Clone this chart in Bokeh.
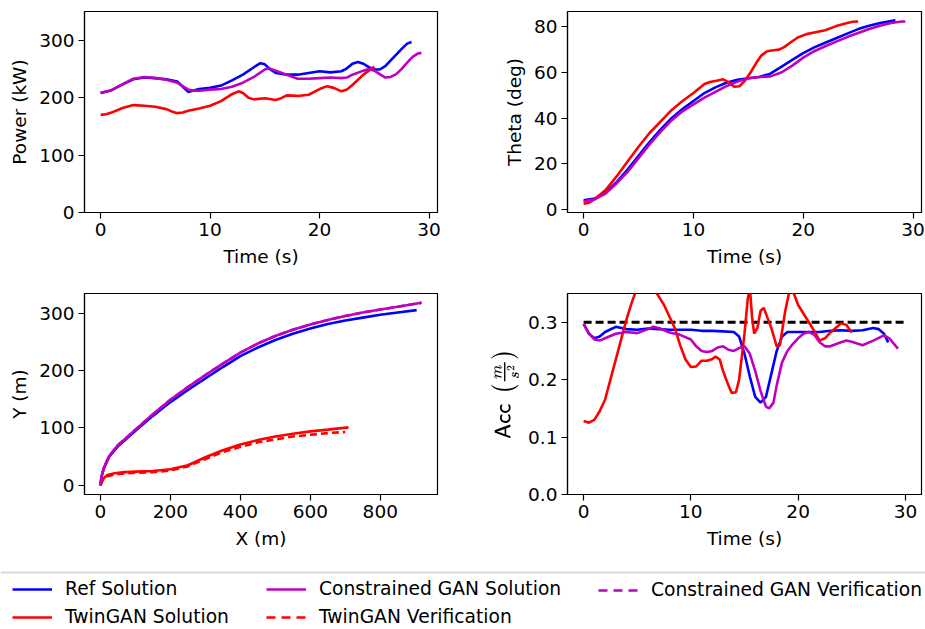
from bokeh.plotting import figure
from bokeh.models import Range1d, FixedTicker, Legend, LegendItem, Span, TeX, PrintfTickFormatter
from bokeh.layouts import column, row
from bokeh.embed import file_html
from bokeh.resources import INLINE

# ---------------- data ----------------
# Power (kW) vs time
ref_pow_t = [0, 1, 2, 3, 4, 5, 6, 7, 8, 9, 10, 11, 12, 13, 14, 14.6, 15, 15.5, 16, 17, 18, 19, 20, 21, 22, 22.5, 23, 23.5, 24, 24.5, 25, 25.5, 26, 26.5, 27, 27.5, 28, 28.4]
ref_pow = [208, 213, 223, 232, 235, 234, 232, 228, 210, 215, 217, 221, 230, 240, 253, 260, 258, 249, 243, 240, 240, 243, 246, 244, 246, 251, 259, 262, 259, 253, 249, 249, 255, 265, 275, 285, 294, 297]
cgan_pow_t = [0, 1, 2, 3, 4, 5, 6, 7, 8, 8.5, 9, 10, 11, 12, 13, 14, 15, 15.4, 16, 17, 18, 19, 20, 21, 22, 22.5, 23, 24, 24.5, 25, 25.5, 26, 26.5, 27, 27.5, 28, 28.5, 29, 29.3]
cgan_pow = [208, 213, 223, 233, 236, 234, 231, 226, 214, 212, 212, 214, 215, 219, 226, 236, 249, 251, 247, 240, 233, 233, 234, 235, 234, 235, 240, 247, 250, 247, 241, 235, 236, 241, 250, 261, 271, 277, 278]
twin_pow_t = [0, 0.5, 1, 2, 3, 4, 5, 6, 6.5, 7, 7.5, 8, 9, 10, 11, 12, 12.6, 13, 13.5, 14, 15, 16, 16.5, 17, 18, 19, 20, 20.7, 21.3, 22, 22.5, 23, 24, 25]
twin_pow = [170, 171, 174, 182, 187, 186, 184, 180, 176, 173, 174, 177, 181, 186, 194, 206, 211, 208, 200, 197, 199, 196, 199, 204, 203, 205, 215, 220, 217, 211, 214, 222, 240, 254]

# Theta (deg) vs time
ref_th_t = [0, 1, 2, 3, 4, 5, 6, 7, 8, 9, 10, 11, 12, 13, 14, 15, 16, 17, 18, 19, 20, 21, 22, 23, 24, 25, 26, 27, 28, 28.4]
ref_th = [4, 4.8, 7.5, 12, 17.5, 23.5, 29.5, 35, 40, 44, 47.5, 51, 53.5, 55.5, 56.8, 57.5, 58, 59.5, 62.5, 65.5, 68.5, 71, 73, 75, 77, 79, 80.5, 81.7, 82.5, 82.8]
cgan_th_t = [0, 1, 2, 3, 4, 5, 6, 7, 8, 9, 10, 11, 12, 13, 14, 15, 16, 17, 18, 19, 20, 21, 22, 23, 24, 25, 26, 27, 28, 29, 29.3]
cgan_th = [3.5, 4.5, 7, 11.5, 16.5, 22.5, 28.5, 34, 39, 43, 46, 49, 51.5, 54, 56, 57.5, 58, 58.3, 60, 63, 66.5, 69.3, 71.5, 73.5, 75.5, 77.3, 79, 80.5, 81.7, 82.3, 82.3]
twin_th_t = [0, 0.5, 1, 2, 3, 4, 5, 6, 7, 8, 9, 10, 11, 11.5, 12, 12.7, 13.2, 13.7, 14.2, 14.7, 15.2, 15.7, 16.2, 16.7, 17.3, 17.8, 18.3, 18.8, 19.5, 20.3, 21, 22, 23, 24, 24.5, 25]
twin_th = [2.5, 3, 4.5, 8.5, 14.5, 21, 27.5, 33.5, 38.5, 43.5, 47.5, 51, 55, 55.8, 56.3, 57, 55.8, 53.8, 54, 56.5, 60, 64, 67.5, 69.3, 69.7, 70, 71.2, 73, 75.3, 76.8, 77.5, 78.5, 80.3, 81.7, 82.2, 82.3]

# Trajectory Y (m) vs X (m)
ref_x = [0, 3, 10, 25, 50, 100, 150, 200, 250, 300, 350, 400, 450, 500, 550, 600, 650, 700, 750, 800, 850, 904]
ref_y = [0, 15, 30, 50, 68, 95, 121, 145, 166, 186, 206, 225, 240, 253, 264, 273, 281, 287, 292, 297, 301, 305]
cgan_x = [0, 3, 10, 25, 50, 100, 150, 200, 250, 300, 350, 400, 450, 500, 550, 600, 650, 700, 750, 800, 850, 918]
cgan_y = [0, 15, 31, 51, 70, 97, 124, 149, 171, 192, 212, 231, 247, 260, 271, 280, 288, 295, 301, 306, 311, 318]
cgan_ver_x = cgan_x
cgan_ver_y = cgan_y
twin_x = [0, 5, 10, 20, 40, 70, 100, 150, 200, 250, 300, 350, 400, 450, 500, 550, 600, 650, 709]
twin_y = [0, 8, 13, 18, 21, 23, 24, 25, 28, 35, 49, 61, 71, 79, 85, 90, 94, 97, 101]
twin_ver_x = [0, 5, 10, 20, 40, 70, 100, 150, 200, 250, 300, 350, 400, 450, 500, 550, 600, 650, 700]
twin_ver_y = [0, 7, 12, 16, 19, 21, 22, 23, 26, 33, 46, 58, 67, 75, 80, 85, 88, 91, 93]

# Acceleration vs time
acc_limit_t = [0, 30]
acc_limit = [0.3, 0.3]
ref_acc_t = [0, 0.5, 1, 1.5, 2, 3, 4, 5, 6, 7, 8, 9, 10, 11, 12, 13, 14, 14.5, 15, 15.5, 16, 16.5, 17, 17.5, 18, 18.5, 19, 20, 22, 23, 24, 25, 26, 27, 27.5, 28, 28.4]
ref_acc = [0.297, 0.28, 0.272, 0.275, 0.283, 0.292, 0.288, 0.287, 0.289, 0.288, 0.287, 0.287, 0.287, 0.285, 0.285, 0.284, 0.283, 0.275, 0.245, 0.205, 0.17, 0.16, 0.17, 0.21, 0.25, 0.275, 0.283, 0.283, 0.283, 0.285, 0.286, 0.285, 0.286, 0.29, 0.288, 0.28, 0.265]
cgan_acc_t = [0, 0.5, 1, 1.5, 2, 3, 4, 5, 6, 6.5, 7, 8, 9, 10, 10.5, 11, 11.5, 12, 12.5, 13, 13.5, 14, 14.5, 15, 15.5, 16, 16.5, 17, 17.3, 17.7, 18, 18.5, 19, 19.5, 20, 20.5, 21, 21.5, 22, 22.5, 23, 24, 24.5, 25, 26, 27, 28, 28.5, 29.3]
cgan_acc = [0.297, 0.28, 0.27, 0.268, 0.272, 0.28, 0.283, 0.281, 0.288, 0.292, 0.29, 0.282, 0.278, 0.27, 0.258, 0.25, 0.248, 0.25, 0.256, 0.258, 0.252, 0.25, 0.255, 0.258, 0.245, 0.215, 0.18, 0.153, 0.15, 0.16, 0.19, 0.23, 0.25, 0.262, 0.272, 0.28, 0.283, 0.278, 0.265, 0.258, 0.258, 0.265, 0.268, 0.266, 0.26, 0.268, 0.277, 0.272, 0.254]
twin_acc_t = [0, 0.5, 1, 1.5, 2, 2.5, 3, 3.5, 4, 4.5, 5, 6, 7, 7.5, 8, 8.5, 9, 9.5, 10, 10.5, 11, 11.5, 12, 12.3, 12.7, 13, 13.5, 13.8, 14.2, 14.5, 15, 15.3, 15.5, 15.7, 15.9, 16.2, 16.5, 16.8, 17.2, 17.5, 18, 18.3, 18.8, 19.2, 19.6, 20, 21, 21.5, 22, 22.5, 23, 23.5, 24, 24.5, 25]
twin_acc = [0.128, 0.125, 0.13, 0.145, 0.165, 0.2, 0.235, 0.27, 0.305, 0.335, 0.36, 0.375, 0.345, 0.33, 0.31, 0.29, 0.26, 0.235, 0.222, 0.223, 0.233, 0.233, 0.236, 0.24, 0.235, 0.215, 0.19, 0.177, 0.178, 0.2, 0.28, 0.34, 0.36, 0.31, 0.28, 0.29, 0.32, 0.325, 0.305, 0.29, 0.258, 0.26, 0.32, 0.355, 0.35, 0.33, 0.3, 0.285, 0.268, 0.272, 0.282, 0.29, 0.298, 0.295, 0.282]

time_ticks = [0, 10, 20, 30]
power_ticks = [0, 100, 200, 300]
theta_ticks = [0, 20, 40, 60, 80]
xpos_ticks = [0, 200, 400, 600, 800]
ypos_ticks = [0, 100, 200, 300]
acc_ticks = [0.0, 0.1, 0.2, 0.3]

legend_labels = ["Ref Solution", "TwinGAN Solution", "Constrained GAN Solution",
                 "TwinGAN Verification", "Constrained GAN Verification"]
# off-screen placeholder data for the legend-only line renderers
legend_dummy_x = [-20, -10]
legend_dummy_y = [-20, -20]

# ---------------- style ----------------
BLUE = "#0000ff"
RED = "#ff0000"
MAG = "#bf00bf"
LW = 2.6
FONT = "DejaVu Sans"
FS = "18.5px"
DASH = "7 4"
LEG_DASH = "9 6"


def make_fig(xr, yr, xticks, yticks, xlabel, ylabel, left, top, bottom, right, fw):
    p = figure(frame_width=fw, frame_height=201,
               x_range=Range1d(*xr), y_range=Range1d(*yr),
               output_backend="svg", toolbar_location=None,
               min_border_left=left, min_border_top=top,
               min_border_bottom=bottom, min_border_right=right)
    p.grid.visible = False
    p.outline_line_color = "black"
    p.outline_line_width = 1.2
    p.background_fill_color = "white"
    p.border_fill_color = "white"
    p.xaxis.ticker = FixedTicker(ticks=xticks)
    p.yaxis.ticker = FixedTicker(ticks=yticks)
    p.xaxis.axis_label = xlabel
    p.yaxis.axis_label = ylabel
    for ax in p.axis:
        ax.axis_line_color = "black"
        ax.axis_line_width = 1.2
        ax.major_tick_in = 0
        ax.major_tick_out = 6
        ax.major_tick_line_color = "black"
        ax.major_tick_line_width = 1.2
        ax.minor_tick_line_color = None
        ax.major_label_text_font = FONT
        ax.major_label_text_font_size = FS
        ax.major_label_text_color = "black"
        ax.axis_label_text_font = FONT
        ax.axis_label_text_font_size = FS
        ax.axis_label_text_font_style = "normal"
        ax.axis_label_text_color = "black"
        ax.major_label_standoff = 4
    p.xaxis.axis_label_standoff = 7
    p.yaxis.axis_label_standoff = 6
    return p


# Power
p1 = make_fig((-1.47, 30.77), (0, 350), time_ticks, power_ticks, "Time (s)", "Power (kW)", 84, 11, 60, 30, 353)
p1.line(ref_pow_t, ref_pow, line_color=BLUE, line_width=LW)
p1.line(twin_pow_t, twin_pow, line_color=RED, line_width=LW)
p1.line(cgan_pow_t, cgan_pow, line_color=MAG, line_width=LW)

# Theta
p2 = make_fig((-1.47, 30.77), (-1.3, 86.7), time_ticks, theta_ticks, "Time (s)", "Theta (deg)", 100, 11, 60, 4, 354)
p2.line(ref_th_t, ref_th, line_color=BLUE, line_width=LW)
p2.line(twin_th_t, twin_th, line_color=RED, line_width=LW)
p2.line(cgan_th_t, cgan_th, line_color=MAG, line_width=LW)

# Trajectory
p3 = make_fig((-45.6, 963.6), (-15.9, 334), xpos_ticks, ypos_ticks, "X (m)", "Y (m)", 84, 21, 60, 30, 353)
p3.line(ref_x, ref_y, line_color=BLUE, line_width=LW)
p3.line(twin_x, twin_y, line_color=RED, line_width=LW)
p3.line(twin_ver_x, twin_ver_y, line_color=RED, line_width=LW, line_dash=DASH)
p3.line(cgan_ver_x, cgan_ver_y, line_color=MAG, line_width=LW, line_dash=DASH)
p3.line(cgan_x, cgan_y, line_color=MAG, line_width=LW)

# Acceleration
p4 = make_fig((-1.5, 31.5), (0, 0.35), time_ticks, acc_ticks, "Time (s)", "Acc", 100, 21, 60, 4, 354)
p4.yaxis.axis_label = TeX(r"\mathsf{Acc}\ \left(\tfrac{m}{s^{2}}\right)")
p4.yaxis.axis_label_text_font_size = "18px"
p4.yaxis.formatter = PrintfTickFormatter(format="%.1f")
p4.line(acc_limit_t, acc_limit, line_color="black", line_width=3, line_dash="8 4")
p4.line(ref_acc_t, ref_acc, line_color=BLUE, line_width=LW)
p4.line(twin_acc_t, twin_acc, line_color=RED, line_width=LW)
p4.line(cgan_acc_t, cgan_acc, line_color=MAG, line_width=LW)

# Legend strip
LH = 75
pl = figure(width=925, height=LH, x_range=Range1d(0, 925), y_range=Range1d(0, LH),
            output_backend="svg", toolbar_location=None,
            min_border_left=0, min_border_right=0, min_border_top=0, min_border_bottom=0)
pl.axis.visible = False
pl.grid.visible = False
pl.outline_line_color = None
pl.add_layout(Span(location=LH - 18, dimension="width", line_color="#d9d9d9", line_width=2))

styles = [(BLUE, None), (RED, None), (MAG, None), (RED, LEG_DASH), (MAG, LEG_DASH)]
rends = []
for col, dash in styles:
    kw = dict(line_color=col, line_width=LW)
    if dash:
        kw["line_dash"] = dash
    rends.append(pl.line(legend_dummy_x, legend_dummy_y, **kw))


def make_legend(idx, loc):
    lg = Legend(items=[LegendItem(label=legend_labels[i], renderers=[rends[i]]) for i in idx],
                location=loc, orientation="vertical",
                glyph_width=40, glyph_height=20, label_height=20, spacing=7,
                label_standoff=13, padding=0, margin=0,
                border_line_color=None, background_fill_alpha=0,
                label_text_font=FONT, label_text_font_size="18.7px", label_text_color="black")
    pl.add_layout(lg)


make_legend([0, 1], (12, 2))
make_legend([2, 3], (266, 2))
make_legend([4], (598, 29))

layout = column(row(p1, p2), row(p3, p4), pl)
open("out.html", "w").write(file_html(layout, INLINE))
